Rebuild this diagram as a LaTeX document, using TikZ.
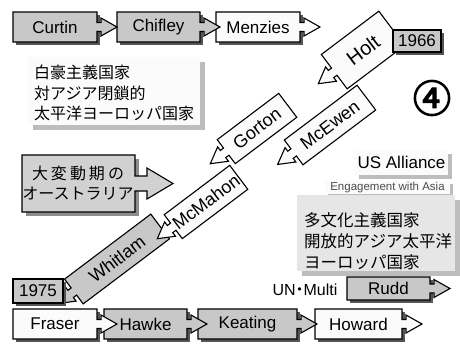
\documentclass[tikz,border=0pt]{standalone}
\usepackage{fontspec}
\setmainfont{Liberation Sans}
\newfontfamily\jp{Noto Sans CJK JP}
\newfontfamily\jpb[FakeBold=3.5]{Noto Sans CJK JP}
\definecolor{boxgray}{HTML}{C8C8C8}
\definecolor{boxwhite}{HTML}{FBFBFB}
\definecolor{shdark}{HTML}{555555}
\definecolor{shlight}{HTML}{BDBDBD}
\definecolor{panelgray}{HTML}{E6E6E6}
\tikzset{
  outl/.style={draw=black,line width=1.1pt,line join=miter},
  lbl/.style={inner sep=0pt,font=\fontsize{17}{19}\selectfont},
  rlbl/.style={inner sep=0pt,font=\fontsize{18}{20}\selectfont},
  jtxt/.style={inner sep=0pt,align=left,font=\jp\fontsize{16}{20.5}\selectfont},
}
% #1 name, #2 cx, #3 cy, #4 w, #5 h, #6 angle, #7 fill, #8 text, #9 dir (1 right, -1 left)
\newcommand{\abx}[9]{%
  \begin{scope}[shift={(#2,#3)},rotate=#6,xscale=#9]
    \draw[outl,fill=#7] ({-#4/2},{-#5/2}) -- ({#4/2},{-#5/2}) -- ({#4/2},-4.5) -- ({#4/2+4},-4.5)
      -- ({#4/2+4},-9) -- ({#4/2+20},0) -- ({#4/2+4},9) -- ({#4/2+4},4.5) -- ({#4/2},4.5)
      -- ({#4/2},{#5/2}) -- ({-#4/2},{#5/2}) -- cycle;
  \end{scope}
  \node[lbl,rotate=#6] (#1) at (#2,#3) {#8};
}
\newcommand{\shd}[4]{%
  \fill[shdark] ({#1-#3/2+3},{#2-#4/2+3}) rectangle ({#1+#3/2+3},{#2+#4/2+3});
}
\newcommand{\rsz}{\fontsize{18}{20}\selectfont}
\begin{document}
\begin{tikzpicture}[x=1pt,y=-1pt]
\useasboundingbox[fill=white] (0,0) rectangle (460,343);

% ---- top row ----
\shd{258}{27}{84}{30}
\abx{menzies}{258}{27}{84}{30}{0}{boxwhite}{Menzies}{1}
\shd{158.5}{27}{83}{30}
\abx{chifley}{158.5}{27}{83}{30}{0}{boxgray}{Chifley}{1}
\shd{55}{27}{84}{30}
\abx{curtin}{55}{27}{84}{30}{0}{boxgray}{Curtin}{1}

% ---- left panel ----
\fill[shlight] (33,62) rectangle (205,130);
\fill[boxwhite] (28,57) rectangle (200,125);
\node[jtxt,anchor=west] (whiteaus) at (34,93) {白豪主義国家\\対アジア閉鎖的\\太平洋ヨーロッパ国家};

% ---- big arrow box ----
\fill[black!45] (26,159) rectangle (139,216);
\draw[outl,fill=black!18] (22,155) -- (135,155) -- (135,176) -- (147,176) -- (147,168) -- (173,183.5)
  -- (147,199) -- (147,191) -- (135,191) -- (135,212) -- (22,212) -- cycle;
\node[jtxt,align=center,font=\jp\fontsize{16}{20}\selectfont] (upheaval) at (78,183.5)
  {大\hspace{3pt}変\hspace{3pt}動\hspace{3pt}期\hspace{3pt}の\\オーストラリア};

% ---- rotated chain ----
\abx{mcewen}{330}{125}{91}{31}{37}{boxwhite}{\rsz McEwen}{-1}
\abx{holt}{363}{50}{72}{43}{37}{boxwhite}{\fontsize{20}{22}\selectfont Holt}{-1}
\abx{gorton}{257}{128.5}{77}{30}{37}{boxwhite}{\rsz Gorton}{-1}
\abx{whitlam}{117}{259}{108}{31}{37}{boxgray}{\rsz Whitlam}{-1}
\abx{mcmahon}{206}{202}{82}{30}{37}{boxwhite}{\rsz McMahon}{-1}

% ---- year tags ----
\shd{417}{41}{48}{22}
\draw[outl,fill=boxgray] (393,30) rectangle (441,52);
\node[lbl] (y1966) at (417,41) {1966};
\shd{38}{291}{50}{24}
\draw[outl,fill=boxgray] (13,279) rectangle (63,303);
\node[lbl] (y1975) at (38,291) {1975};

% ---- circled number ----
\node[inner sep=0pt,font=\jpb\fontsize{38}{38}\selectfont] (num) at (432,98) {④};

% ---- right side labels ----
\fill[shlight] (359,154) rectangle (452,179);
\fill[boxwhite] (355,150) rectangle (448,175);
\node[lbl] (usall) at (401.5,162.5) {US Alliance};
\fill[shlight] (328,184) rectangle (453,197);
\fill[boxwhite] (325,181) rectangle (450,194);
\node[lbl,font=\fontsize{11.5}{13}\selectfont,text=black!70] (engage) at (387.5,187.5) {Engagement with Asia};
\fill[shlight] (302,200) rectangle (460,276);
\fill[panelgray] (297,195) rectangle (455,271);
\node[jtxt,anchor=west,font=\jp\fontsize{16.5}{21}\selectfont] (multi) at (304,241)
  {多文化主義国家\\開放的アジア太平洋\\ヨーロッパ国家};
\node[lbl,font=\fontsize{16}{18}\selectfont] (unmulti) at (305,290) {UN\kern-4pt{\jp ・}\kern-4pt Multi};

% ---- Rudd ----
\shd{388.5}{288.5}{83}{23}
\abx{rudd}{388.5}{288.5}{83}{23}{0}{boxgray}{Rudd}{1}

% ---- bottom row ----
\shd{358.5}{324}{87}{30}
\abx{howard}{358.5}{324}{87}{30}{0}{boxwhite}{Howard}{1}
\shd{247.5}{324}{99}{30}
\abx{keating}{247.5}{324}{99}{30}{0}{boxgray}{Keating}{1}
\shd{145.5}{324}{83}{30}
\abx{hawke}{145.5}{324}{83}{30}{0}{boxgray}{Hawke}{1}
\shd{55}{324}{84}{30}
\abx{fraser}{55}{324}{84}{30}{0}{boxwhite}{Fraser}{1}
\end{tikzpicture}
\end{document}
